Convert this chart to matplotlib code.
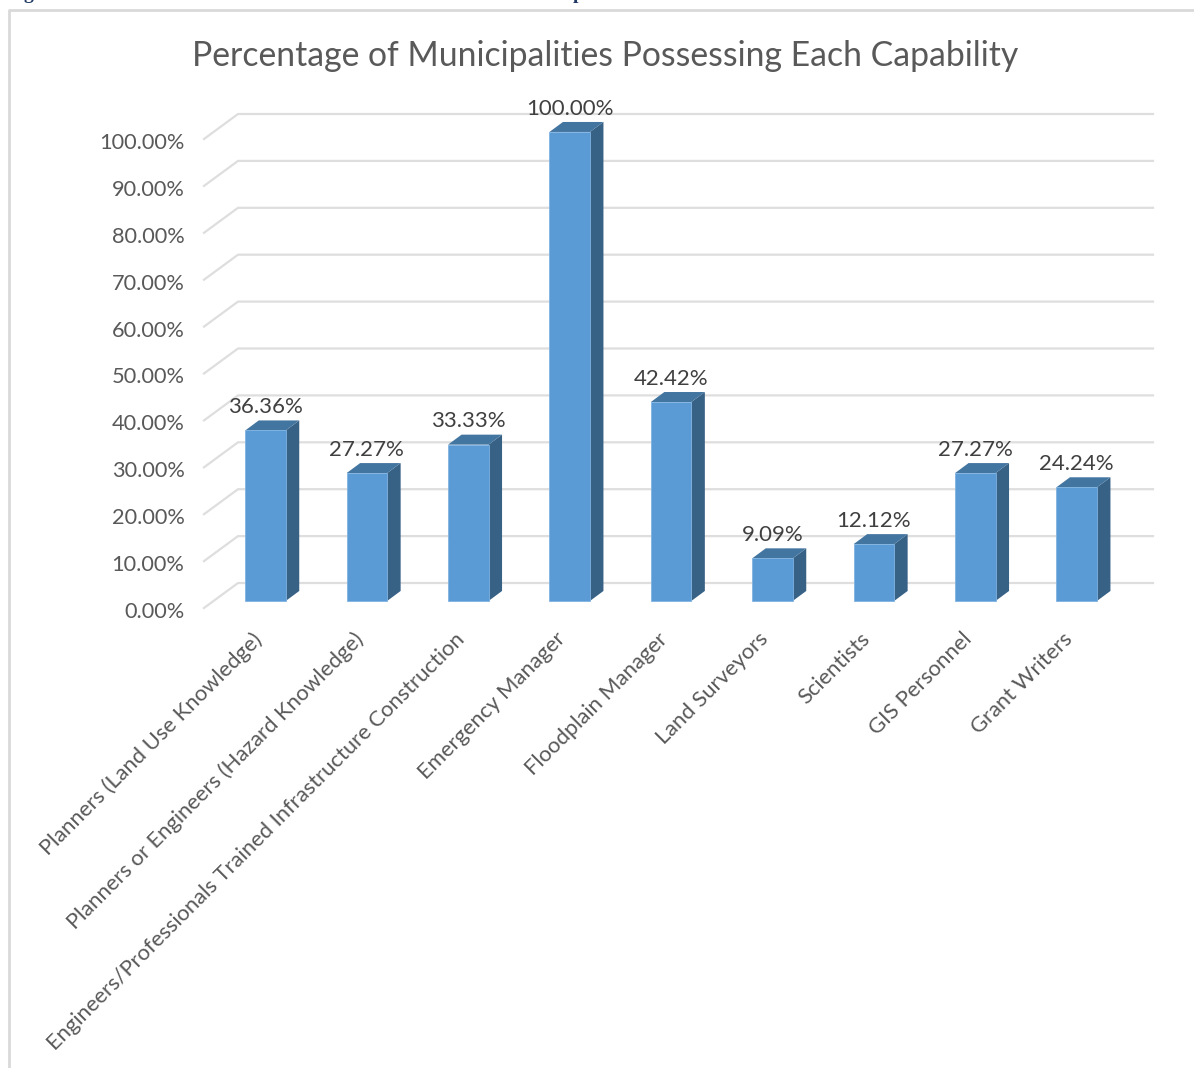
import matplotlib
matplotlib.use("Agg")
import matplotlib.pyplot as plt
from matplotlib.patches import Polygon
from matplotlib.transforms import ScaledTranslation

categories = ["Planners (Land Use Knowledge)", "Planners or Engineers (Hazard Knowledge)",
              "Engineers/Professionals Trained Infrastructure Construction", "Emergency Manager",
              "Floodplain Manager", "Land Surveyors", "Scientists", "GIS Personnel", "Grant Writers"]
values = [36.36, 27.27, 33.33, 100.00, 42.42, 9.09, 12.12, 27.27, 24.24]
y_ticks = [0, 10, 20, 30, 40, 50, 60, 70, 80, 90, 100]

W, H = 1194, 1068
plt.rcParams['font.family'] = ['Lato', 'DejaVu Sans']
fig = plt.figure(figsize=(W/100, H/100), dpi=100)

# axes box in pixels, front floor edge is y=0
left, right, top, bottom = 204, 1153, 100, 608
ax = fig.add_axes([left/W, 1-bottom/H, (right-left)/W, (bottom-top)/H])
ax.set_xlim((left-265.5)/101.4, (right-265.5)/101.4)
ax.set_ylim(0, (bottom-top)/4.69)
ax.patch.set_visible(False)
for s in ax.spines.values():
    s.set_visible(False)

floor = 1.5       # bar base above front edge
back = 5.33       # back wall gridline offset
bw = 40.5/101.4
dx = 13.5/101.4
dy = 10/4.69
x0 = ax.get_xlim()[0]
x1 = ax.get_xlim()[1]
wall = x0 + 34/101.4

# gridlines with the slanted bit at the left
for v in y_ticks:
    ax.plot([x0, wall, x1], [v, v+back, v+back], color='#dedede', lw=1.6, zorder=1, clip_on=False)

for i, v in enumerate(values):
    l = i - bw/2
    r = i + bw/2
    b = floor
    t = floor + v
    ax.add_patch(Polygon([(r, b), (r+dx, b+dy), (r+dx, t+dy), (r, t)], fc='#386186', ec='none', zorder=3))
    ax.add_patch(Polygon([(l, t), (r, t), (r+dx, t+dy), (l+dx, t+dy)], fc='#4375a1', ec='none', zorder=3))
    ax.bar(i, v, bw, bottom=b, color='#5b9bd5', edgecolor='#7fb2e0', lw=0.6, zorder=4)
    ax.text(i, t+dy+0.7, f"{v:.2f}%", ha='center', va='bottom', fontsize=16, color='#404040', zorder=5)

ax.set_yticks(y_ticks)
ax.set_yticklabels([f"{v:.2f}%" for v in y_ticks], fontsize=15.7, color='#595959')
ax.set_xticks(range(len(categories)))
ax.set_xticklabels(categories, rotation=45, ha='right', rotation_mode='anchor', fontsize=15.8, color='#595959')
ax.tick_params(axis='both', length=0)
ax.tick_params(axis='y', pad=14)
ax.tick_params(axis='x', pad=15)

# nudge tick labels, pixels at dpi 100
for lab in ax.get_xticklabels():
    lab.set_transform(lab.get_transform() + ScaledTranslation(-14/100, 0, fig.dpi_scale_trans))
for lab in ax.get_yticklabels():
    lab.set_transform(lab.get_transform() + ScaledTranslation(0, -2/100, fig.dpi_scale_trans))

fig.text(605/W, 1-56/H, "Percentage of Municipalities Possessing Each Capability", ha='center', va='center',
         fontsize=24.3, color='#595959')

# caption above the chart, the screenshot only keeps its descenders
for cx, glyph in [(28, "g"), (578, "p")]:
    fig.text(cx/W, 1+1/H, glyph, ha='center', va='baseline', fontsize=14, fontweight='bold',
             family='Liberation Serif', color='#1f3864')

# chart frame, only top and left show in the screenshot
frame = fig.add_axes([0, 0, 1, 1], zorder=-1)
frame.set_xlim(0, W)
frame.set_ylim(H, 0)
frame.axis('off')
frame.plot([8.5, 8.5, 1194], [1068, 9.5, 9.5], color='#d9d9d9', lw=2)

fig.savefig("out.png", dpi=100)
